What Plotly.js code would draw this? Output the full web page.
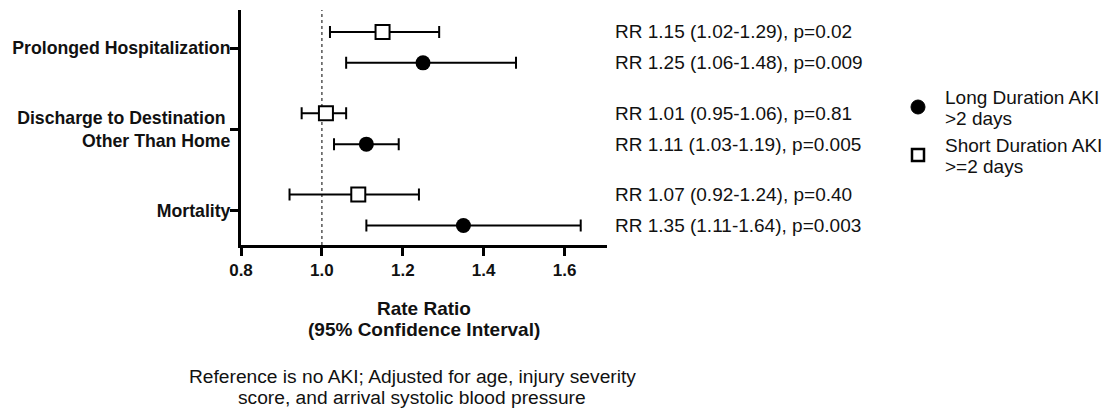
<!DOCTYPE html>
<html>
<head>
<meta charset="utf-8">
<script src="https://cdn.plot.ly/plotly-3.0.1.min.js"></script>
<style>html,body{margin:0;padding:0;background:#fff;}#chart{width:1109px;height:410px;}</style>
</head>
<body>
<div id="chart"></div>
<script>
// ---- data ----
var categories = ['Prolonged Hospitalization', 'Discharge to Destination\u00a0<br>Other Than Home', 'Mortality'];
var groupPos = [2, 1, 0];
var longRR = [1.25, 1.11, 1.35];
var longLo = [1.06, 1.03, 1.11];
var longHi = [1.48, 1.19, 1.64];
var shortRR = [1.15, 1.01, 1.09];
var shortLo = [1.02, 0.95, 0.92];
var shortHi = [1.29, 1.06, 1.24];
var shortLabels = ['RR 1.15 (1.02-1.29), p=0.02', 'RR 1.01 (0.95-1.06), p=0.81', 'RR 1.07 (0.92-1.24), p=0.40'];
var longLabels = ['RR 1.25 (1.06-1.48), p=0.009', 'RR 1.11 (1.03-1.19), p=0.005', 'RR 1.35 (1.11-1.64), p=0.003'];
var xTicks = [0.8, 1.0, 1.2, 1.4, 1.6];
var seriesNamesLong = ['Long Duration AKI', '>2 days'];
var seriesNamesShort = ['Short Duration AKI', '>=2 days'];
var xTitleLines = ['Rate Ratio', '(95% Confidence Interval)'];
var footnoteLines = ['Reference is no AKI; Adjusted for age, injury severity', 'score, and arrival systolic blood pressure'];

var FONT = 'Liberation Sans, Arial, sans-serif';
var SHORT_OFF = 0.2, LONG_OFF = -0.18;
var W = 1109, H = 410, ML = 241, MR = 502, MT = 10, MB = 165;
var PW = W - ML - MR, PH = H - MT - MB;
function px(x) { return (x - ML) / PW; }
function py(y) { return 1 - (y - MT) / PH; }

function sub(a, b) { return a.map(function (v, i) { return Math.abs(v - b[i]); }); }

var yLong = groupPos.map(function (g) { return g + LONG_OFF; });
var yShort = groupPos.map(function (g) { return g + SHORT_OFF; });

var traceLong = {
  type: 'scatter', mode: 'markers', name: seriesNamesLong.join(' '),
  x: longRR, y: yLong,
  marker: { symbol: 'circle', size: 15, color: '#000' },
  error_x: { type: 'data', symmetric: false, array: sub(longHi, longRR), arrayminus: sub(longRR, longLo),
             color: '#000', thickness: 2, width: 6 },
  cliponaxis: false
};
var traceShort = {
  type: 'scatter', mode: 'markers', name: seriesNamesShort.join(' '),
  x: shortRR, y: yShort,
  marker: { symbol: 'square', size: 14, color: '#fff', line: { color: '#000', width: 2 } },
  error_x: { type: 'data', symmetric: false, array: sub(shortHi, shortRR), arrayminus: sub(shortRR, shortLo),
             color: '#000', thickness: 2, width: 6 },
  cliponaxis: false
};

var TXT = '#111';
var annotations = [];
function ann(x, y, text, size, anchor, bold) {
  annotations.push({ xref: 'paper', yref: 'paper', x: px(x), y: py(y), xanchor: anchor, yanchor: 'middle',
    text: bold ? '<b>' + text + '</b>' : text, showarrow: false,
    font: { family: FONT, size: size, color: TXT } });
}
for (var i = 0; i < groupPos.length; i++) {
  annotations.push({ xref: 'paper', yref: 'y', x: px(613), y: yShort[i], xanchor: 'left', yanchor: 'middle',
    text: shortLabels[i], showarrow: false, font: { family: FONT, size: 19, color: TXT } });
  annotations.push({ xref: 'paper', yref: 'y', x: px(613), y: yLong[i], xanchor: 'left', yanchor: 'middle',
    text: longLabels[i], showarrow: false, font: { family: FONT, size: 19, color: TXT } });
}
// x-axis title (two tight lines)
ann(424, 308, xTitleLines[0], 19, 'center', true);
ann(424, 329, xTitleLines[1], 19, 'center', true);
// footnote
ann(412, 376.5, footnoteLines[0], 19.2, 'center', false);
ann(412, 397.5, footnoteLines[1], 19.2, 'center', false);
// legend text
ann(943, 97, seriesNamesLong[0], 19, 'left', false);
ann(943, 118, seriesNamesLong[1], 19, 'left', false);
ann(943, 145, seriesNamesShort[0], 19, 'left', false);
ann(943, 166, seriesNamesShort[1], 19, 'left', false);

var shapes = [
  { type: 'line', xref: 'x', yref: 'paper', x0: 1.0, x1: 1.0, y0: 0, y1: 1, layer: 'below',
    line: { color: '#555', width: 1.5, dash: 'dot' } },
  // legend symbols
  { type: 'circle', xref: 'paper', yref: 'paper', x0: px(911), x1: px(925), y0: py(100), y1: py(114),
    fillcolor: '#000', line: { color: '#000', width: 1 } },
  { type: 'rect', xref: 'paper', yref: 'paper', x0: px(912), x1: px(924), y0: py(149), y1: py(161),
    fillcolor: '#fff', line: { color: '#000', width: 2.5 } }
];

var layout = {
  width: W, height: H,
  margin: { l: ML, r: MR, t: MT, b: MB },
  paper_bgcolor: '#fff', plot_bgcolor: '#fff',
  font: { family: FONT, color: '#000' },
  showlegend: false,
  xaxis: {
    range: [0.8, 1.705], tickvals: xTicks, ticktext: xTicks.map(function (v) { return v.toFixed(1); }),
    showline: true, linewidth: 3, linecolor: '#000', ticks: 'outside', ticklen: 8, tickwidth: 3, tickcolor: '#000',
    showgrid: false, zeroline: false,
    tickfont: { family: FONT, size: 17, color: TXT, weight: 'bold' }
  },
  yaxis: {
    range: [-0.42, 2.47], tickvals: groupPos, ticktext: categories,
    showline: true, linewidth: 3, linecolor: '#000', ticks: 'outside', ticklen: 8, tickwidth: 3, tickcolor: '#000',
    showgrid: false, zeroline: false, ticklabelstandoff: -4,
    tickfont: { family: FONT, size: 17.7, color: TXT, weight: 'bold' }
  },
  shapes: shapes,
  annotations: annotations
};

Plotly.newPlot('chart', [traceLong, traceShort], layout, { displayModeBar: false, staticPlot: true });
</script>
</body>
</html>
